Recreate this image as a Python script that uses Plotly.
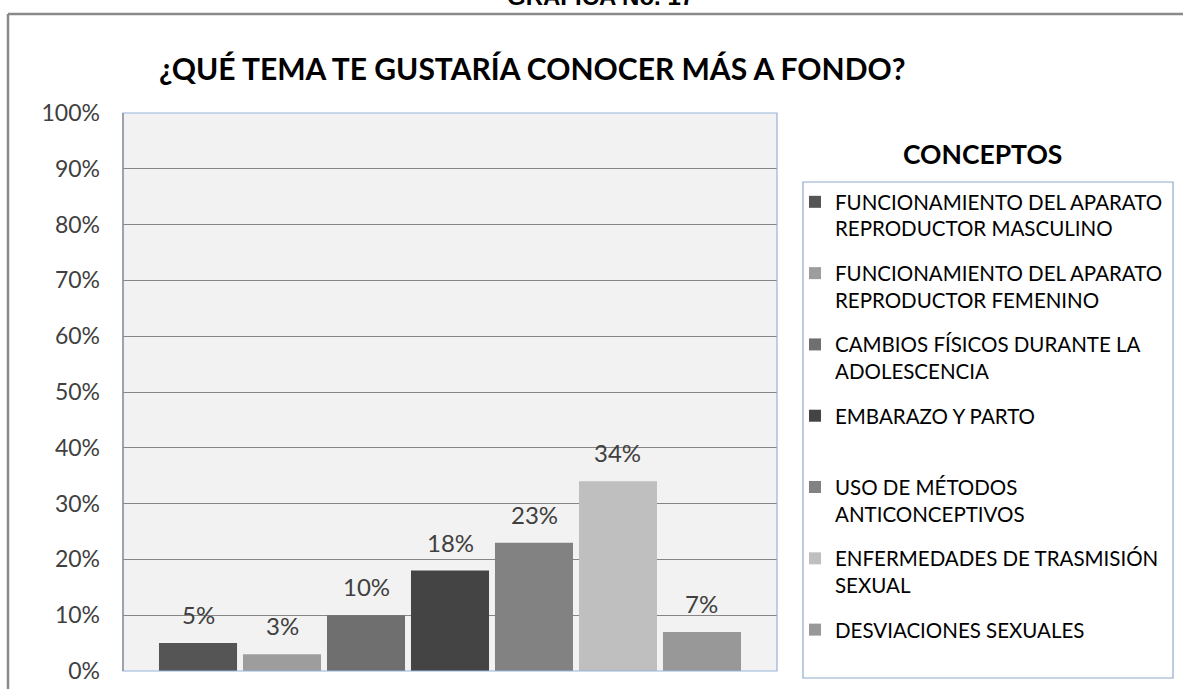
import plotly.graph_objects as go

# ---- data ----
categories = [
    "FUNCIONAMIENTO DEL APARATO<br>REPRODUCTOR MASCULINO",
    "FUNCIONAMIENTO DEL APARATO<br>REPRODUCTOR FEMENINO",
    "CAMBIOS FÍSICOS DURANTE LA<br>ADOLESCENCIA",
    "EMBARAZO Y PARTO<br> ",
    "USO DE MÉTODOS<br>ANTICONCEPTIVOS",
    "ENFERMEDADES DE TRASMISIÓN<br>SEXUAL",
    "DESVIACIONES SEXUALES<br> ",
]
values = [0.05, 0.03, 0.10, 0.18, 0.23, 0.34, 0.07]
labels = ["5%", "3%", "10%", "18%", "23%", "34%", "7%"]
colors = ["#555555", "#9d9d9d", "#6f6f6f", "#444444", "#828282", "#bfbfbf", "#989898"]

W, H = 1183, 689
ML, MR, MT, MB = 123, 406, 113, 18
PW, PH = W - ML - MR, H - MT - MB

def px_x(p):
    return (p - ML) / PW

def px_y(p):
    return (H - MB - p) / PH

FONT = "Lato"
TXT = "#404040"

fig = go.Figure()
for i, (c, v, col) in enumerate(zip(categories, values, colors)):
    fig.add_trace(go.Bar(
        x=[c], y=[v], name=c, marker=dict(color=col, line=dict(width=0)),
        legendgroup="g%d" % i, hoverinfo="y",
    ))

annotations = []
for c, v, t in zip(categories, values, labels):
    annotations.append(dict(x=c, y=v, xref="x", yref="y", text=t, showarrow=False,
                            yanchor="bottom", yshift=12,
                            font=dict(family=FONT, size=24, color=TXT)))

px_annotations = [
    dict(x=532, y=68, text="<b>¿QUÉ TEMA TE GUSTARÍA CONOCER MÁS A FONDO?</b>",
         size=30, family=FONT, yanchor="middle"),
    dict(x=982, y=154, text="<b>CONCEPTOS</b>", size=26.5, family=FONT, yanchor="middle"),
    dict(x=600, y=12, text="<b>GRAFICA No. 17</b>", size=24, family="Liberation Sans",
         yanchor="bottom"),
]
for a in px_annotations:
    annotations.append(dict(x=px_x(a["x"]), y=px_y(a["y"]), xref="paper", yref="paper",
                            text=a["text"], showarrow=False, xanchor="center",
                            yanchor=a["yanchor"],
                            font=dict(family=a["family"], size=a["size"], color="#000000")))

shapes = [
    dict(type="rect", xref="paper", yref="paper", x0=0, x1=1, y0=0, y1=1,
         line=dict(color="#95b3d7", width=1.2), layer="above"),
    dict(type="line", xref="paper", yref="paper", x0=0, x1=0, y0=0, y1=1,
         line=dict(color="#868686", width=1.2), layer="above"),
    dict(type="rect", xref="paper", yref="paper", x0=px_x(803), x1=px_x(1173),
         y0=px_y(678), y1=px_y(182), line=dict(color="#8eaacb", width=1.2),
         fillcolor="rgba(0,0,0,0)"),
    dict(type="line", xref="paper", yref="paper", x0=px_x(8), x1=px_x(1200),
         y0=px_y(14), y1=px_y(14), line=dict(color="#8a8a8a", width=2.5)),
    dict(type="line", xref="paper", yref="paper", x0=px_x(8), x1=px_x(8),
         y0=px_y(14), y1=px_y(700), line=dict(color="#8a8a8a", width=2.5)),
]

fig.update_layout(
    width=W, height=H,
    margin=dict(l=ML, r=MR, t=MT, b=MB, pad=0, autoexpand=False),
    paper_bgcolor="#ffffff", plot_bgcolor="#f2f2f2",
    barmode="overlay", bargap=0.071,
    showlegend=True,
    legend=dict(xref="container", yref="container", x=795 / W, y=1 - 182 / H,
                xanchor="left", yanchor="top", valign="top",
                bgcolor="rgba(0,0,0,0)", borderwidth=0, tracegroupgap=15,
                traceorder="grouped", maxheight=650,
                font=dict(family=FONT, size=20.5, color="#000000")),
    xaxis=dict(type="category", categoryorder="array", categoryarray=categories,
               range=[-0.893, 6.893], showticklabels=False, showgrid=False,
               zeroline=False, showline=False, ticks="", automargin=False),
    yaxis=dict(range=[0, 1], dtick=0.1, tickformat=".0%", showgrid=True,
               gridcolor="#868686", gridwidth=1.2, zeroline=False, showline=False,
               ticks="", ticklabelstandoff=22, automargin=False,
               tickfont=dict(family=FONT, size=23, color=TXT)),
    annotations=annotations,
    shapes=shapes,
    hovermode="closest",
)

fig.write_html("out.html", config={"displayModeBar": False},
               post_script="document.body.style.margin='0';document.body.style.overflow='hidden';")
